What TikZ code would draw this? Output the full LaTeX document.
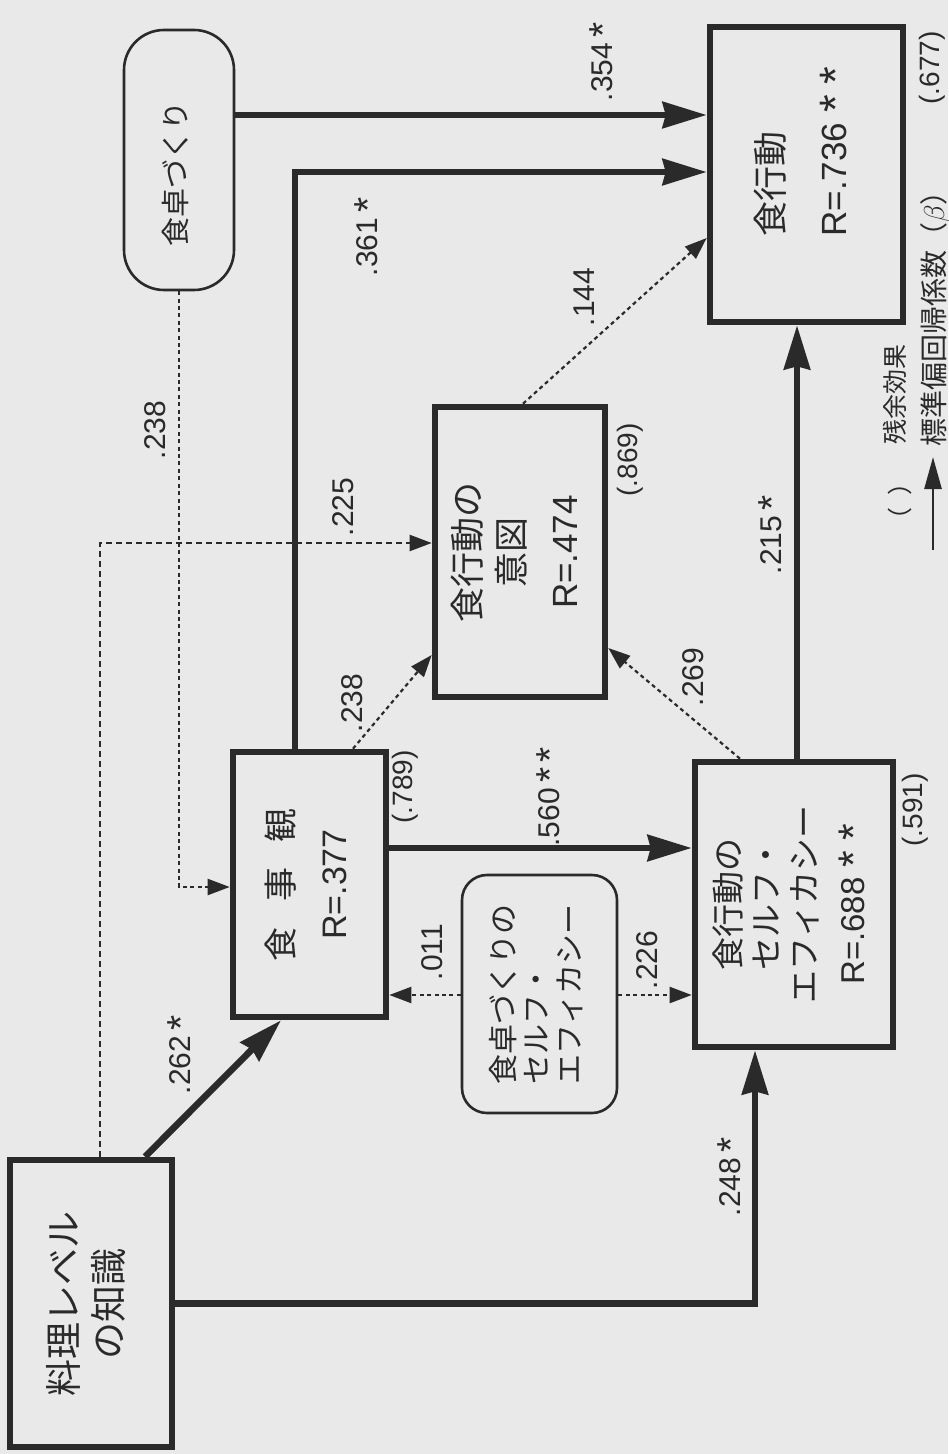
\documentclass[tikz,border=0pt]{standalone}
\usepackage{graphicx}
\usepackage{fontspec}
\setmainfont{Liberation Sans}
\newfontfamily\jp{Noto Sans CJK JP}
\usetikzlibrary{positioning,arrows.meta}

\definecolor{paper}{HTML}{E9E9E9}
\definecolor{ink}{HTML}{2A2A2A}

% rotated multi-line text (reads bottom to top)
\newcommand{\vtext}[2][@{}c@{}]{\rotatebox{90}{\begin{tabular}{#1}#2\end{tabular}}}
\newcommand{\lat}{\rmfamily}
\newcommand{\sig}{\raisebox{-0.12em}{\scalebox{1.3}{*}}}

\begin{document}
\begin{tikzpicture}[
  x=0.5pt, y=-0.5pt,
  sqbox/.style={draw=ink, line width=3.3pt, fill=paper, inner sep=0pt, text=ink},
  rdbox/.style={draw=ink, line width=1.3pt, fill=paper, inner sep=0pt, text=ink},
  strong/.style={draw=ink, line width=3.3pt, -{Stealth[length=22pt,width=13pt,inset=1.5pt]}},
  weak/.style={draw=ink, line width=1.1pt, dash pattern=on 2pt off 1.7pt, -{Triangle[length=11pt,width=8pt]}},
  weakdash/.style={weak, dash pattern=on 3pt off 2pt},
  coef/.style={rotate=90, text=ink, inner sep=0pt, font=\fontsize{15}{15}\selectfont},
  resid/.style={coef, font=\fontsize{14}{14}\selectfont},
  legend/.style={rotate=90, text=ink, inner sep=0pt, anchor=west, font=\jp\fontsize{12.5}{12.5}\selectfont}
]
\useasboundingbox (0,0) rectangle (948,1454);
\fill[paper] (0,0) rectangle (948,1454);

% boxes
\node[sqbox, minimum width=81pt, minimum height=143.5pt,
  font=\jp\fontsize{18.5}{22.5}\selectfont] (know) at (91,1303.5)
  {\vtext{料理レベル\\の知識}};
\node[rdbox, rounded corners=20pt, minimum width=55pt, minimum height=130pt,
  font=\jp\fontsize{14.5}{16}\selectfont] (table) at (179,160)
  {\vtext[@{}c@{\hspace{14pt}}]{食卓づくり}};
\node[sqbox, minimum width=76.5pt, minimum height=132.5pt,
  font=\jp\fontsize{17}{26.5}\selectfont] (view) at (309.5,884.5)
  {\vtext{食\hspace{0.75em}事\hspace{0.75em}観\\{\lat R=.377}}};
\node[sqbox, minimum width=85pt, minimum height=145pt,
  font=\jp\fontsize{17.5}{22}\selectfont] (intent) at (520,552)
  {\vtext{食行動の\\意図\\[4.5pt]{\lat R=.474}}};
\node[sqbox, minimum width=99pt, minimum height=142.5pt,
  font=\jp\fontsize{16.5}{19}\selectfont] (selfeff) at (794,904.5)
  {\vtext{食行動の\\セルフ・\\エフィカシー\\[5pt]{\lat R=.688\hspace{0.3em}\sig\hspace{0.3em}\sig}}};
\node[sqbox, minimum width=96.5pt, minimum height=147.5pt,
  font=\jp\fontsize{17.5}{22}\selectfont] (behav) at (806.5,174.5)
  {\vtext[@{\hspace{23pt}}l@{}]{食行動\\[9.5pt]{\lat R=.736\hspace{0.3em}\sig\hspace{0.3em}\sig}}};
\node[rdbox, rounded corners=12.5pt, minimum width=77.5pt, minimum height=119pt,
  font=\jp\fontsize{15}{15.75}\selectfont] (tableeff) at (539.5,994)
  {\vtext[@{}l@{}]{食卓づくりの\\セルフ・\\エフィカシー}};

% bend points
\coordinate (bend-view) at (295,172);
\coordinate (bend-know) at (100,543);
\coordinate (bend-self) at (755,1303.5);

% paths
\draw[strong] (table.east |- 0,115) -- (behav.west |- 0,115);
\draw[strong] (view.north -| bend-view) |- (behav.west |- bend-view);
\draw[weak] (table.south) |- (view.west |- 0,887);
\draw[weakdash] (know.north -| bend-know) |- (intent.west |- bend-know);
\draw[strong] (know.north -| 145,0) -- (view.south -| 281,0);
\draw[strong] (know.east) -| (selfeff.south -| bend-self);
\draw[strong] (view.east |- 0,848) -- (selfeff.west |- 0,848);
\draw[weak] (view.north -| 353,0) -- (intent.west |- 0,655);
\draw[weak] (selfeff.north -| 740,0) -- (intent.east |- 0,648);
\draw[strong] (selfeff.north -| 797,0) -- (behav.south -| 797,0);
\draw[weak] (intent.north -| 523,0) -- (behav.west |- 0,238);
\draw[weak] (tableeff.west |- 0,995) -- (view.east |- 0,995);
\draw[weak] (tableeff.east |- 0,995) -- (selfeff.west |- 0,995);

% coefficients
\node[coef] (c354) at (603,62) {.354\,\sig};
\node[coef] (c361) at (368,237) {.361\,\sig};
\node[coef] (c144) at (584,297) {.144};
\node[coef] (c238a) at (155,430) {.238};
\node[coef] (c225) at (343,507) {.225};
\node[coef] (c238b) at (352,703) {.238};
\node[coef] (c269) at (693,677) {.269};
\node[coef] (c215) at (772,535) {.215\,\sig};
\node[coef] (c560) at (550,797) {.560\,\sig\,\sig};
\node[coef] (c011) at (432,952) {.011};
\node[coef] (c226) at (647,960) {.226};
\node[coef] (c262) at (181,1055) {.262\,\sig};
\node[coef] (c248) at (731,1177) {.248\,\sig};

% residuals
\node[resid] (r677) at (932,68) {(.677)};
\node[resid] (r869) at (630,460) {(.869)};
\node[resid] (r789) at (405,787) {(.789)};
\node[resid] (r591) at (915,810) {(.591)};

% legend
\node[legend] (lg-paren) at (900,533) {（\hspace{0.5em}）};
\node[legend] (lg-resid) at (895,445) {残余効果};
\coordinate (lg-tail) at (933,550);
\coordinate (lg-head) at (933,457);
\draw[draw=ink, line width=1.3pt, -{Triangle[length=16pt,width=8.5pt]}] (lg-tail) -- (lg-head);
\node[legend, font=\jp\fontsize{14}{14}\selectfont] (lg-beta) at (935,447) {標準偏回帰係数（$\beta$）};
\end{tikzpicture}
\end{document}
